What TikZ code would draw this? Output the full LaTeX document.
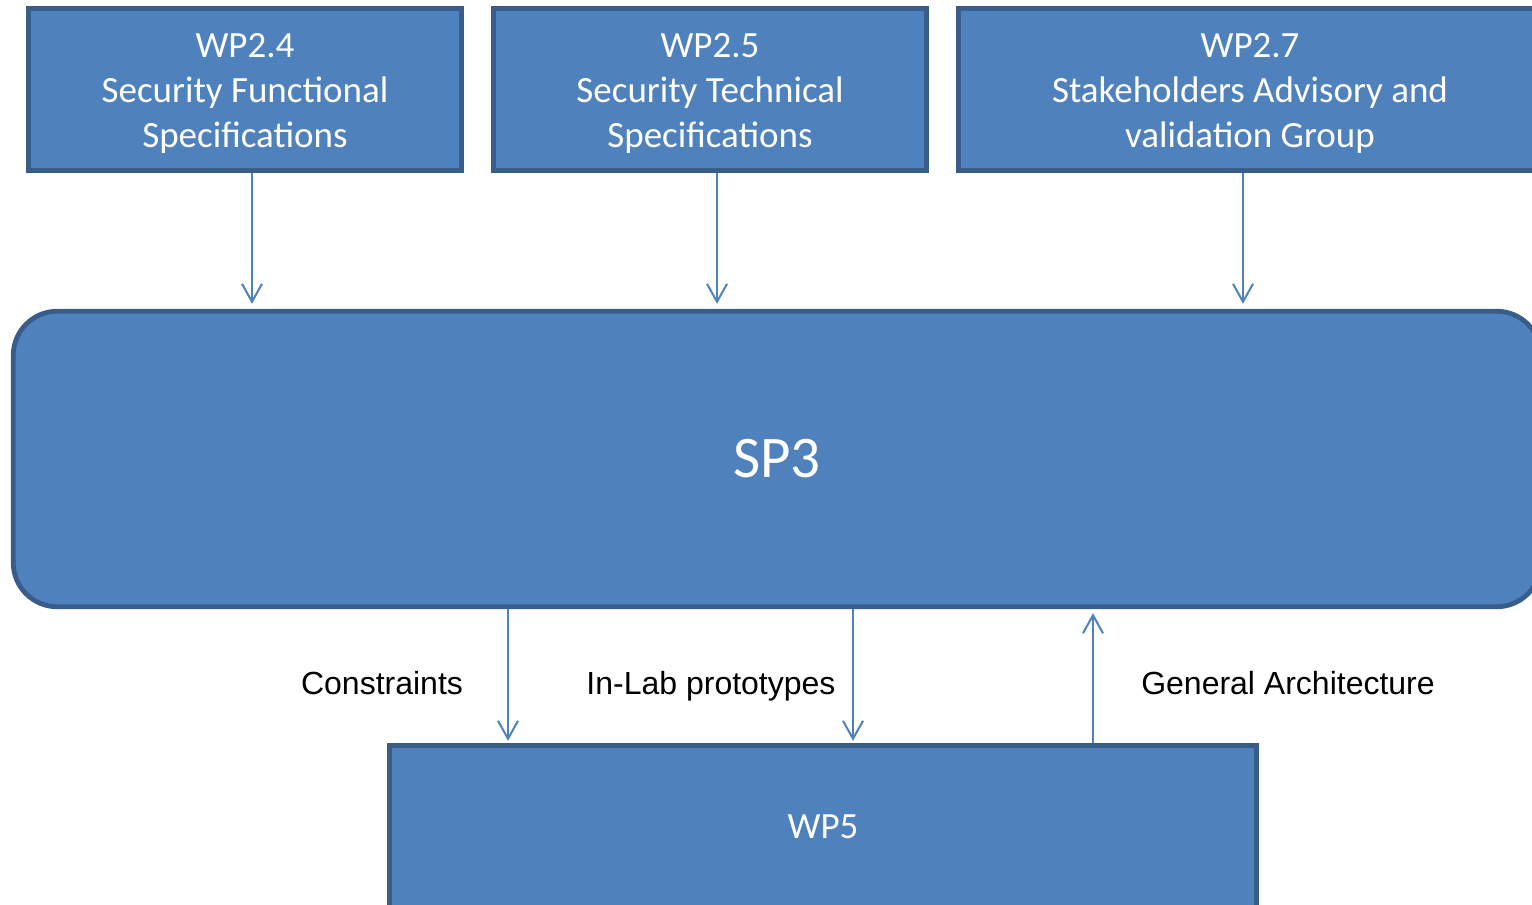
\documentclass[tikz,border=0pt]{standalone}
\usepackage{fontspec}
\setmainfont{Carlito}
\newfontfamily\labelfont{Liberation Sans}
\usetikzlibrary{arrows.meta}
\definecolor{boxfill}{HTML}{4F81BD}
\definecolor{boxedge}{HTML}{385D8A}
% taller first line, to set the box text a little lower
\newcommand{\firstline}{\rule{0pt}{16pt}}
\begin{document}
\begin{tikzpicture}[x=0.5pt,y=-0.5pt,
  wpbox/.style={draw=boxedge, fill=boxfill, line width=2.4pt, text=white,
    align=center, inner sep=0pt, font=\fontsize{18.5}{22.5}\selectfont},
  flow/.style={draw=boxfill, line width=1pt,
    -{Straight Barb[length=9pt,width=10pt,line width=1pt]}},
  flowlabel/.style={font=\labelfont\fontsize{16}{19}\selectfont, inner sep=0pt, anchor=base}]
  \useasboundingbox (0,0) rectangle (1532,905);
  \clip (0,0) rectangle (1532,905);

  % work-package boxes on top
  \node[wpbox, minimum width=216.75pt, minimum height=81.25pt] (wp24) at (245,89.5)
    {\firstline WP2.4\\Security Functional\\Specifications};
  \node[wpbox, minimum width=216.75pt, minimum height=81.25pt] (wp25) at (710,89.5)
    {\firstline WP2.5\\Security Technical\\Specifications};
  \node[wpbox, minimum width=291.75pt, minimum height=81.25pt] (wp27) at (1250,89.5)
    {\firstline WP2.7\\Stakeholders Advisory and\\validation Group};

  % sub-project block
  \node[wpbox, rounded corners=22pt, minimum width=763.75pt, minimum height=147.75pt,
    font=\fontsize{29.5}{35}\selectfont] (sp3) at (777,459) {SP3};

  % WP5 at the bottom
  \node[wpbox, minimum width=433.75pt, minimum height=81.75pt] (wp5) at (823,827) {WP5};

  % x positions of the connectors
  \coordinate (c1) at (252,0);
  \coordinate (c2) at (717,0);
  \coordinate (c3) at (1243,0);
  \coordinate (c4) at (508,0);
  \coordinate (c5) at (853,0);
  \coordinate (c6) at (1093,0);

  \draw[flow, shorten >=2.5pt] (wp24.south -| c1) -- (sp3.north -| c1);
  \draw[flow, shorten >=2.5pt] (wp25.south -| c2) -- (sp3.north -| c2);
  \draw[flow, shorten >=2.5pt] (wp27.south -| c3) -- (sp3.north -| c3);
  \draw[flow, shorten >=1pt] (sp3.south -| c4) -- (wp5.north -| c4);
  \draw[flow, shorten >=1pt] (sp3.south -| c5) -- (wp5.north -| c5);
  \draw[flow, shorten >=2pt] (wp5.north -| c6) -- (sp3.south -| c6);

  \node[flowlabel] (l1) at (382,694) {Constraints};
  \node[flowlabel] (l2) at (711,694) {In-Lab prototypes};
  \node[flowlabel] (l3) at (1288,694) {General Architecture};
\end{tikzpicture}
\end{document}
